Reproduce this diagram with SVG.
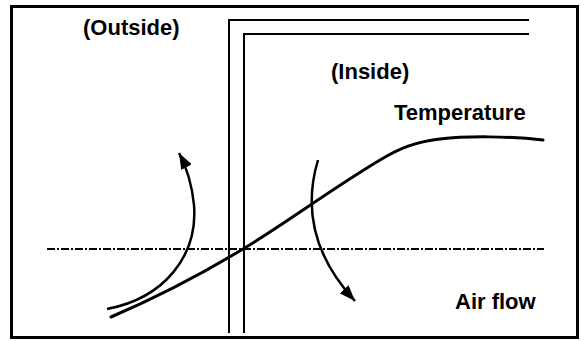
<svg xmlns="http://www.w3.org/2000/svg" width="584" height="341" viewBox="0 0 584 341">
<style>
.lbl{font-family:"Liberation Sans",Arial,sans-serif;font-weight:bold;font-size:22px;fill:#000}
.wall{fill:none;stroke:#000;stroke-width:2}
.curve{fill:none;stroke:#000;stroke-width:3;stroke-linecap:round}
.arr{fill:none;stroke:#000;stroke-width:2.5}
</style>
<defs>
<marker id="ah" markerUnits="userSpaceOnUse" markerWidth="18" markerHeight="12" refX="16" refY="6" orient="auto">
<path d="M0,0 L16,6 L0,12 z" fill="#000"/>
</marker>
</defs>
<rect width="584" height="341" fill="#fff"/>
<rect x="11.5" y="6.5" width="566" height="331" fill="none" stroke="#000" stroke-width="3"/>
<g id="wall">
<path class="wall" d="M229,333 V20 H529"/>
<path class="wall" d="M244,333 V34 H529"/>
</g>
<g id="labels">
<text class="lbl" x="83" y="35">(Outside)</text>
<text class="lbl" x="331" y="79">(Inside)</text>
<text class="lbl" x="394" y="120">Temperature</text>
<text class="lbl" x="455" y="309">Air flow</text>
</g>
<g id="connectors">
<line x1="47" y1="249" x2="544" y2="249" stroke="#000" stroke-width="2" stroke-dasharray="8 2 2 2"/>
<path class="curve" d="M111,317 C160,296 200,275 243,249 S330,190 380,160 C400,148 415,142 440,139 S510,136 543,140"/>
<path class="arr" marker-end="url(#ah)" d="M107,309 C165,298 198,255 194,205 C192,185 187,168 179,153"/>
<path class="arr" marker-end="url(#ah)" d="M318,160 C306,200 308,250 355,301"/>
</g>
</svg>
